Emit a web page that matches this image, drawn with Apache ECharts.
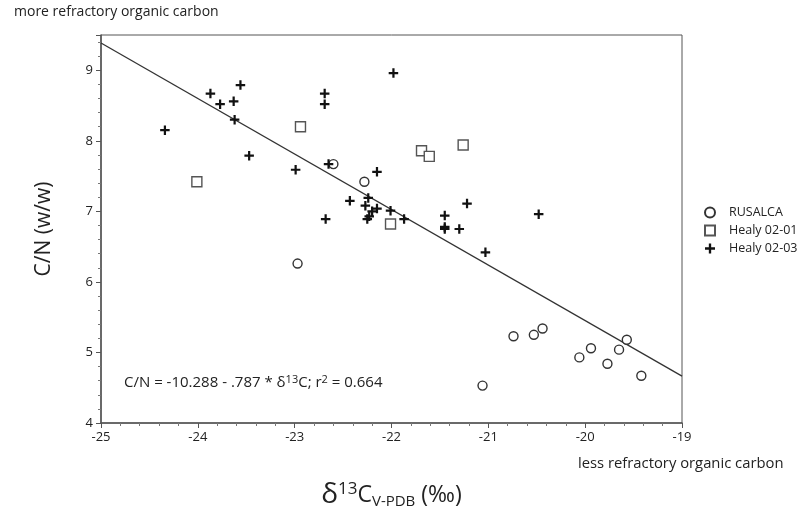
<!DOCTYPE html>
<html><head><meta charset="utf-8">
<script src="https://cdn.jsdelivr.net/npm/echarts@6/dist/echarts.min.js"></script>
<style>html,body{margin:0;padding:0;background:#fff}#c{width:808px;height:523px}</style>
</head><body><div id="c"></div>
<script>
// RUSALCA (open circles): [d13C, C/N]
var rusalca = [[-22.60,7.67],[-22.28,7.42],[-22.97,6.26],[-20.74,5.23],[-20.53,5.25],[-20.44,5.34],
  [-21.06,4.53],[-20.06,4.93],[-19.94,5.06],[-19.77,4.84],[-19.65,5.04],[-19.57,5.18],[-19.42,4.67]];
// Healy 02-01 (open squares)
var healy0201 = [[-24.01,7.42],[-22.94,8.20],[-21.69,7.86],[-21.61,7.78],[-21.26,7.94],[-22.01,6.82]];
// Healy 02-03 (crosses)
var healy0203 = [[-24.34,8.15],[-23.87,8.67],[-23.77,8.52],[-23.63,8.56],[-23.56,8.79],[-23.62,8.30],
  [-23.47,7.79],[-22.69,8.67],[-22.69,8.52],[-22.99,7.59],[-22.65,7.67],[-21.98,8.96],[-22.15,7.56],
  [-22.43,7.15],[-22.68,6.89],[-22.24,7.19],[-22.27,7.08],[-22.15,7.04],[-22.20,7.00],[-22.23,6.93],
  [-22.25,6.89],[-22.01,7.01],[-21.87,6.89],[-21.45,6.94],[-21.45,6.78],[-21.45,6.75],[-21.30,6.75],
  [-21.22,7.11],[-21.03,6.42],[-20.48,6.96]];
// regression: C/N = a + b * d13C
var regIntercept = -10.288;
var regSlope = -0.787;
var regR2 = 0.664;
var xRange = [-25, -19];
var yRange = [4, 9.5];
var xTicks = [-25,-24,-23,-22,-21,-20,-19];
var yTicks = [4,5,6,7,8,9];

var regLine = xRange.map(function(x){ return [x, regIntercept + regSlope * x]; });
var FONT = '"Open Sans", "Noto Sans", sans-serif';
var crossPath = 'path://M3.6,0H5.8V3.6H9.4V5.8H5.8V9.4H3.6V5.8H0V3.6H3.6Z';

var chart = echarts.init(document.getElementById('c'));
chart.setOption({
  animation: false,
  textStyle: {fontFamily: FONT, color: '#222'},
  grid: {left: 101, right: 126, top: 35, bottom: 100, show: true, borderColor: '#555', borderWidth: 1, backgroundColor: 'transparent'},
  xAxis: {
    type: 'value', min: xRange[0], max: xRange[1], interval: 1,
    axisLine: {onZero: false, lineStyle: {color: '#555', width: 1.5}},
    axisTick: {length: 5, lineStyle: {color: '#555'}},
    minorTick: {show: true, splitNumber: 5, length: 3, lineStyle: {color: '#777'}},
    splitLine: {show: false},
    axisLabel: {fontSize: 13, color: '#222', margin: 8, fontFamily: FONT,
      formatter: function(v){ return xTicks.indexOf(v) >= 0 ? String(v) : ''; }},
    name: '{d|δ}{sup|13}{m|C}{sub|V-PDB}{m| (‰)}',
    nameLocation: 'middle', nameGap: 58,
    nameTextStyle: {rich: {
      d: {fontSize: 28, fontFamily: FONT, color: '#222'},
      sup: {fontSize: 17, fontFamily: FONT, color: '#222', verticalAlign: 'top', padding: [0,0,10,0]},
      m: {fontSize: 23, fontFamily: FONT, color: '#222'},
      sub: {fontSize: 15, fontFamily: FONT, color: '#222', verticalAlign: 'bottom', padding: [9,0,0,0]}
    }}
  },
  yAxis: {
    type: 'value', min: yRange[0], max: yRange[1], interval: 1,
    axisLine: {onZero: false, lineStyle: {color: '#555', width: 1.5}},
    axisTick: {length: 5, lineStyle: {color: '#555'}},
    minorTick: {show: true, splitNumber: 5, length: 3, lineStyle: {color: '#777'}},
    splitLine: {show: false},
    axisLabel: {fontSize: 13, color: '#222', margin: 8, fontFamily: FONT,
      formatter: function(v){ return yTicks.indexOf(v) >= 0 ? String(v) : ''; }},
    name: 'C/N (w/w)', nameLocation: 'middle', nameGap: 46,
    nameTextStyle: {fontSize: 21, color: '#222', fontFamily: FONT}
  },
  legend: {
    orient: 'vertical', left: 699, top: 201, itemGap: 5, itemWidth: 10, itemHeight: 10,
    textStyle: {fontSize: 12.5, color: '#222', fontFamily: FONT, padding: [0,0,0,9]},
    data: ['RUSALCA', 'Healy 02-01', 'Healy 02-03']
  },
  graphic: [
    {type: 'text', left: 14, top: 5, style: {text: 'more refractory organic carbon', font: '14px ' + FONT, fill: '#222'}},
    {type: 'text', left: 578, top: 456, style: {text: 'less refractory organic carbon', font: '14.8px ' + FONT, fill: '#222'}},
    {type: 'text', left: 124, top: 374, style: {
      text: '{a|C/N = ' + regIntercept.toFixed(3) + ' - ' + String(Math.abs(regSlope)).replace(/^0/, '') + ' * δ}{s|13}{a|C; r}{s|2}{a| = ' + regR2.toFixed(3) + '}',
      rich: {a: {fontSize: 15, fontFamily: FONT, fill: '#222'}, s: {fontSize: 11, fontFamily: FONT, fill: '#222', verticalAlign: 'top', padding: [0,0,6,0]}}
    }}
  ],
  series: [
    {name: 'regression', type: 'line', data: regLine, symbol: 'none', silent: true,
      lineStyle: {color: '#333', width: 1.3}, z: 1},
    {name: 'RUSALCA', type: 'scatter', data: rusalca, symbol: 'circle', symbolSize: 9,
      itemStyle: {color: '#fff', borderColor: '#333', borderWidth: 1.4, opacity: 1}, z: 3},
    {name: 'Healy 02-01', type: 'scatter', data: healy0201, symbol: 'rect', symbolSize: 10,
      itemStyle: {color: '#fff', borderColor: '#555', borderWidth: 1.4, opacity: 1}, z: 3},
    {name: 'Healy 02-03', type: 'scatter', data: healy0203, symbol: crossPath, symbolSize: 9.5,
      itemStyle: {color: '#111', opacity: 1}, z: 4}
  ]
});
</script></body></html>
